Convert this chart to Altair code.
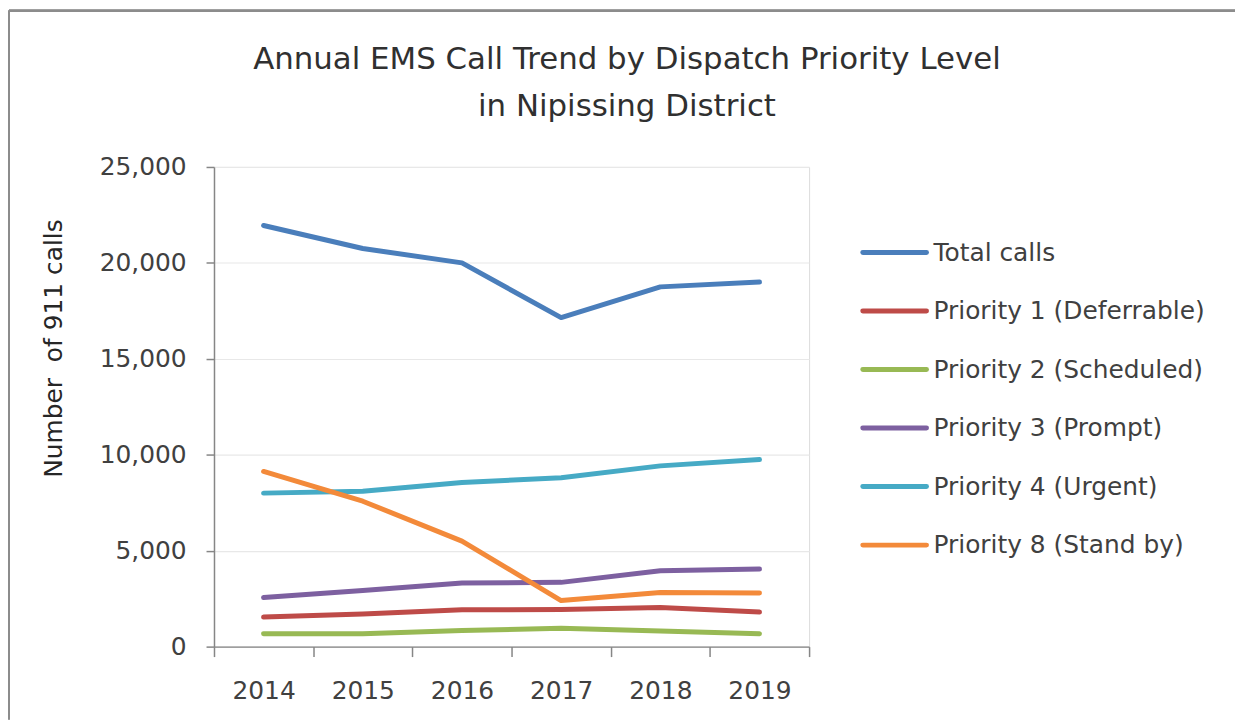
import altair as alt
import pandas as pd

years = ["2014", "2015", "2016", "2017", "2018", "2019"]
series = [
    "Total calls",
    "Priority 1 (Deferrable)",
    "Priority 2 (Scheduled)",
    "Priority 3 (Prompt)",
    "Priority 4 (Urgent)",
    "Priority 8 (Stand by)",
]
total_calls = [21950, 20750, 20000, 17150, 18750, 19000]
priority_1 = [1540, 1700, 1920, 1930, 2040, 1800]
priority_2 = [670, 670, 840, 960, 810, 670]
priority_3 = [2560, 2920, 3320, 3350, 3950, 4040]
priority_4 = [8000, 8100, 8550, 8800, 9420, 9750]
priority_8 = [9130, 7580, 5500, 2400, 2820, 2800]
colors = ["#4A7EBB", "#BE4B48", "#98B954", "#7D60A0", "#46AAC5", "#F38A3A"]
y_ticks = [0, 5000, 10000, 15000, 20000, 25000]

values = [total_calls, priority_1, priority_2, priority_3, priority_4, priority_8]
rows = []
for name, vals in zip(series, values):
    for yr, v in zip(years, vals):
        rows.append({"year": yr, "series": name, "calls": v})
df = pd.DataFrame(rows)
legend_df = pd.DataFrame({"series": series})

FONT = "DejaVu Sans"
TEXT = "#404040"
AXIS = "#868686"
FS = 25

color = alt.Color(
    "series:N",
    scale=alt.Scale(domain=series, range=colors),
    legend=None,
)

# outer chart frame (decoration)
frame_top = alt.Chart(legend_df).mark_rule(color="#8c8c8c", strokeWidth=2).encode(
    x=alt.value(-206), x2=alt.value(1026), y=alt.value(-157)
)
frame_left = alt.Chart(legend_df).mark_rule(color="#8c8c8c", strokeWidth=2).encode(
    x=alt.value(-206), y=alt.value(-157), y2=alt.value(555)
)

lines = alt.Chart(df).mark_line(strokeWidth=5, strokeCap="round", strokeJoin="round").encode(
    x=alt.X(
        "year:O",
        sort=years,
        bandPosition=0.5,
        scale=alt.Scale(type="band", paddingInner=0, paddingOuter=0),
        axis=alt.Axis(
            title=None,
            tickBand="extent",
            labelAngle=0,
            labelFont=FONT,
            labelFontSize=FS,
            labelColor=TEXT,
            labelPadding=22,
            tickSize=10,
            tickColor=AXIS,
            tickWidth=1.5,
            domainColor=AXIS,
            domainWidth=1.5,
            grid=False,
        ),
    ),
    y=alt.Y(
        "calls:Q",
        scale=alt.Scale(domain=[0, 25000], nice=False),
        axis=alt.Axis(
            title="Number\u00a0 of 911 calls",
            values=y_ticks,
            format=",.0f",
            labelFont=FONT,
            labelFontSize=FS,
            labelColor=TEXT,
            labelPadding=20,
            tickSize=8,
            tickColor=AXIS,
            tickWidth=1.5,
            domainColor=AXIS,
            domainWidth=1.5,
            gridColor="#e8e8e8",
            gridWidth=1.2,
            titleFont=FONT,
            titleFontSize=FS,
            titleFontWeight="normal",
            titleColor="#262626",
            titleX=-161,
            titleY=182,
            titleAngle=270,
            titleAlign="center",
            titleBaseline="middle",
        ),
    ),
    color=color,
)

leg_y = alt.Y(
    "series:N",
    sort=series,
    scale=alt.Scale(type="point", domain=series, range=[86, 380], padding=0),
    axis=None,
)
legend_lines = alt.Chart(legend_df).mark_rule(strokeWidth=5, strokeCap="round").encode(
    x=alt.value(652), x2=alt.value(716), y=leg_y, color=color
)
legend_text = alt.Chart(legend_df).mark_text(
    align="left", baseline="middle", font=FONT, fontSize=FS, color=TEXT
).encode(x=alt.value(723), y=leg_y, text="series:N")
legend = alt.layer(legend_lines, legend_text)

chart = (
    alt.layer(frame_top, frame_left, lines, legend)
    .resolve_scale(y="independent")
    .properties(
        width=598,
        height=482,
        padding=0,
        title=alt.TitleParams(
            text=["Annual EMS Call Trend by Dispatch Priority Level", "in Nipissing District"],
            font=FONT,
            fontSize=31,
            fontWeight="normal",
            color="#303030",
            lineHeight=47,
            anchor="middle",
            dx=116,
            dy=118,
        ),
    )
    .configure_view(stroke=None)
    .configure(background="white")
)

chart.save("out.html", embed_options={"renderer": "svg", "actions": False})
